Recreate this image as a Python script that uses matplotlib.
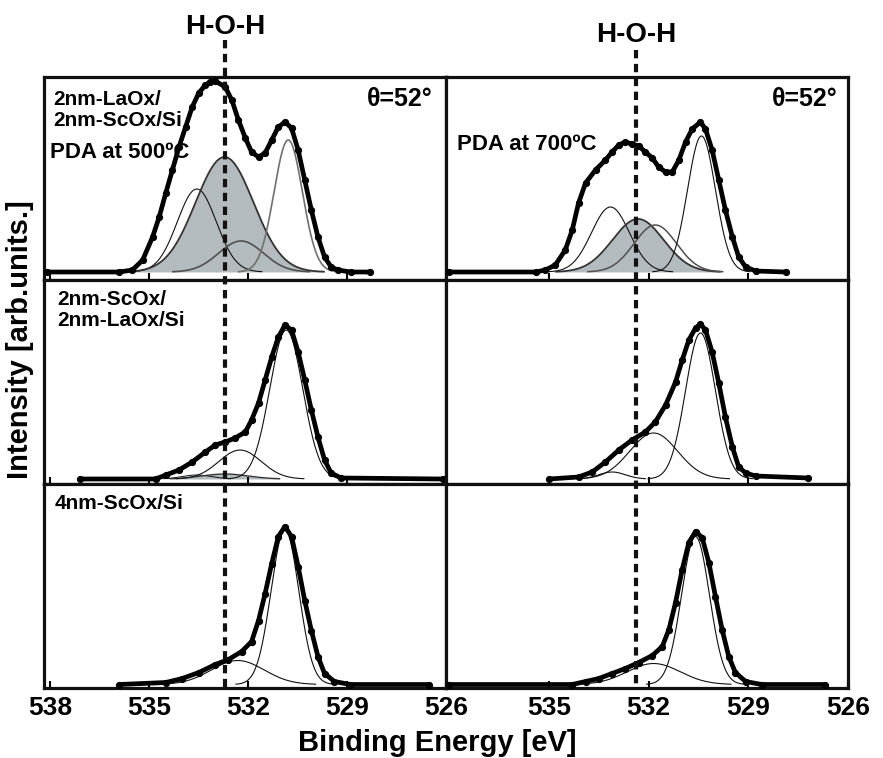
import numpy as np
import matplotlib
matplotlib.use("Agg")
import matplotlib.pyplot as plt
from matplotlib.lines import Line2D
from matplotlib.transforms import blended_transform_factory

plt.rcParams['font.family'] = ['Liberation Sans', 'DejaVu Sans']
plt.rcParams['font.weight'] = 'bold'
plt.rcParams['lines.scale_dashes'] = False

# ---------------- data (binding energy in eV, intensity in arb. units) ----------------
# measured envelopes
tl_energy = [538.1, 535.9, 535.5, 535.19, 534.89, 534.69, 534.49, 534.29, 534.09, 533.89, 533.69,
             533.49, 533.29, 533.14, 532.99, 532.69, 532.49, 532.29, 532.08, 531.89, 531.68, 531.48,
             531.28, 531.08, 530.88, 530.68, 530.48, 530.28, 530.08, 529.88, 529.68, 529.48, 529.28,
             528.89, 528.29]
tl_int = [0, 0, 2, 12, 35, 55, 79, 102, 125, 145, 165,
          179, 187, 190, 191, 185, 172, 152, 134, 120, 115, 119,
          132, 145, 150, 144, 122, 92, 62, 35, 15, 5, 2,
          0, 0]

tr_energy = [538.0, 535.4, 535.11, 534.81, 534.51, 534.30, 534.11, 533.90, 533.60, 533.30, 533.10,
             532.90, 532.70, 532.50, 532.30, 532.10, 531.89, 531.70, 531.49, 531.29, 531.09, 530.89,
             530.69, 530.44, 530.29, 530.09, 529.89, 529.69, 529.48, 529.29, 529.08, 528.78, 527.88]
tr_int = [0, 0, 2, 7, 22, 42, 69, 89, 102, 112, 120,
          127, 130, 128, 126, 120, 114, 105, 100, 100, 112, 130,
          143, 150, 143, 122, 92, 62, 35, 15, 5, 1, 0]

ml_energy = [537.1, 534.8, 534.49, 534.09, 533.69, 533.29, 532.99, 532.69, 532.39, 532.08, 531.89,
             531.68, 531.48, 531.28, 531.08, 530.88, 530.68, 530.48, 530.28, 530.08, 529.88, 529.68,
             529.48, 529.18, 526.1]
ml_int = [0, 0, 4, 9, 17, 27, 34, 37, 41, 47, 59,
          76, 99, 122, 142, 154, 149, 127, 99, 69, 42, 19,
          6, 1, 0]

mr_energy = [535.0, 534.11, 533.70, 533.30, 532.90, 532.50, 532.10, 531.80, 531.49, 531.19, 530.99,
             530.79, 530.59, 530.44, 530.29, 530.09, 529.89, 529.69, 529.48, 529.29, 529.08, 528.78,
             527.19]
mr_int = [0, 2, 7, 17, 29, 39, 47, 57, 74, 97, 119,
          139, 151, 155, 149, 127, 96, 62, 32, 12, 6, 3,
          1]

bl_energy = [535.9, 534.49, 533.99, 533.49, 532.99, 532.59, 532.19, 531.89, 531.68, 531.48, 531.28,
             531.08, 530.88, 530.68, 530.48, 530.28, 530.08, 529.88, 529.68, 529.38, 528.9, 526.5]
bl_int = [0, 2, 6, 12, 20, 25, 33, 43, 64, 91, 121,
          148, 158, 148, 118, 84, 54, 28, 11, 3, 0, 0]

br_energy = [538.0, 534.3, 533.90, 533.50, 533.10, 532.70, 532.30, 531.89, 531.59, 531.39, 531.19,
             530.99, 530.79, 530.59, 530.39, 530.19, 529.99, 529.79, 529.59, 529.39, 529.08, 528.6,
             526.7]
br_int = [0, 0, 3, 6, 11, 16, 22, 29, 38, 55, 82,
          115, 142, 153, 147, 122, 88, 55, 28, 12, 3, 0,
          0]

# fitted components: centre (eV), height, sigma (eV)
tl_centers = [533.55, 532.71, 532.21, 530.78]
tl_heights = [83, 115, 31, 132]
tl_sigmas = [0.59, 0.875, 0.68, 0.43]

tr_centers = [533.15, 532.32, 531.80, 530.41]
tr_heights = [65, 53, 47, 136]
tr_sigmas = [0.57, 0.77, 0.64, 0.42]

ml_centers = [533.55, 532.70, 532.24, 530.84]
ml_heights = [4, 5, 29, 149]
ml_sigmas = [0.45, 0.70, 0.64, 0.50]

mr_centers = [533.10, 531.85, 530.44]
mr_heights = [7, 46, 146]
mr_sigmas = [0.40, 0.72, 0.45]

bl_centers = [532.31, 530.88]
bl_heights = [24, 155]
bl_sigmas = [0.80, 0.42]

br_centers = [531.85, 530.59]
br_heights = [21, 148]
br_sigmas = [0.80, 0.42]

hoh_left = 532.70
hoh_right = 532.38

left_ticks = [538, 535, 532, 529, 526]
right_ticks = [535, 532, 529, 526]

# ---------------- styles ----------------
FILL = '#b3bbbf'
tl_styles = [('#111111', 0.8, False), ('#333333', 1.3, True), ('#505050', 1.2, False), ('#707070', 1.2, False)]
tr_styles = [('#111111', 0.8, False), ('#333333', 1.3, True), ('#505050', 1.1, False), ('#111111', 0.8, False)]
ml_styles = [('#111111', 0.7, False), ('#333333', 1.0, True), ('#111111', 0.8, False), ('#111111', 0.8, False)]
mr_styles = [('#111111', 0.8, False), ('#111111', 0.8, False), ('#111111', 0.8, False)]
bl_styles = [('#111111', 0.8, False), ('#111111', 0.8, False)]
br_styles = [('#111111', 0.8, False), ('#111111', 0.8, False)]

W, H = 883, 758
fig = plt.figure(figsize=(W / 100, H / 100), dpi=100)


def fx(px):
    return px / W


def fy(py):
    return 1 - py / H


col_x = [(44, 446), (446, 848)]
row_y = [(77, 280, 272), (280, 484, 479), (484, 688, 684.5)]
xlims = [(538.18, 526.0), (538.1, 526.0)]

panels = [
    [(tl_energy, tl_int, tl_centers, tl_heights, tl_sigmas, tl_styles),
     (tr_energy, tr_int, tr_centers, tr_heights, tr_sigmas, tr_styles)],
    [(ml_energy, ml_int, ml_centers, ml_heights, ml_sigmas, ml_styles),
     (mr_energy, mr_int, mr_centers, mr_heights, mr_sigmas, mr_styles)],
    [(bl_energy, bl_int, bl_centers, bl_heights, bl_sigmas, bl_styles),
     (br_energy, br_int, br_centers, br_heights, br_sigmas, br_styles)],
]

axes = [[None, None] for _ in range(3)]
for r in range(3):
    top, bot, base = row_y[r]
    for c in range(2):
        x0, x1 = col_x[c]
        ax = fig.add_axes([fx(x0), fy(bot), (x1 - x0) / W, (bot - top) / H])
        axes[r][c] = ax
        energy, inten, cens, hts, sigs, styles = panels[r][c]
        grid = np.linspace(537.0, 527.5, 800)
        for cen, h, s, (col, lw, filled) in zip(cens, hts, sigs, styles):
            g = h * np.exp(-0.5 * ((grid - cen) / s) ** 2)
            m = g > 0.3
            if filled:
                ax.fill_between(grid[m], 0, g[m], color=FILL, lw=0, zorder=1)
            ax.plot(grid[m], g[m], color=col, lw=lw, zorder=2)
        ax.plot(energy, inten, color='black', lw=3.4, zorder=3,
                marker='o', ms=4.2, mec='black', mfc='black',
                solid_capstyle='round', solid_joinstyle='round')
        ax.set_xlim(*xlims[c])
        ax.set_ylim(-(bot - base), base - top)
        ax.set_yticks([])
        ticks = left_ticks if c == 0 else right_ticks
        ax.set_xticks(ticks)
        ax.tick_params(axis='x', direction='in', length=5, width=1.5, pad=6,
                       labelsize=19, labelbottom=(r == 2))
        if r == 2:
            ax.set_xticklabels([str(t) for t in ticks], fontweight='bold')
        for sp in ax.spines.values():
            sp.set_linewidth(2.3)
            sp.set_color('#111111')

# H-O-H dashed reference lines
for c, e, ytop in [(0, hoh_left, 40), (1, hoh_right, 50)]:
    tr = blended_transform_factory(axes[0][c].transData, fig.transFigure)
    ln = Line2D([e, e], [fy(ytop), fy(688)], transform=tr, color='#111111',
                lw=3.0, dashes=(6, 4), zorder=5)
    fig.lines.append(ln)
    ln.set_figure(fig)

fig.text(fx(225), fy(34), 'H-O-H', ha='center', va='baseline', fontsize=20, fontweight='bold')
fig.text(fx(636), fy(42), 'H-O-H', ha='center', va='baseline', fontsize=20, fontweight='bold')

# panel annotations
fig.text(fx(53), fy(105), '2nm-LaOx/', ha='left', va='baseline', fontsize=15, fontweight='bold')
fig.text(fx(53), fy(126), '2nm-ScOx/Si', ha='left', va='baseline', fontsize=15, fontweight='bold')
fig.text(fx(50), fy(158), 'PDA at 500ºC', ha='left', va='baseline', fontsize=16, fontweight='bold')
fig.text(fx(457), fy(150), 'PDA at 700ºC', ha='left', va='baseline', fontsize=16, fontweight='bold')
fig.text(fx(433), fy(106), 'θ=52°', ha='right', va='baseline', fontsize=18, fontweight='bold')
fig.text(fx(838), fy(106), 'θ=52°', ha='right', va='baseline', fontsize=18, fontweight='bold')
fig.text(fx(57), fy(305), '2nm-ScOx/', ha='left', va='baseline', fontsize=15, fontweight='bold')
fig.text(fx(57), fy(326), '2nm-LaOx/Si', ha='left', va='baseline', fontsize=15, fontweight='bold')
fig.text(fx(55), fy(509), '4nm-ScOx/Si', ha='left', va='baseline', fontsize=15, fontweight='bold')

fig.text(fx(437), fy(743), 'Binding Energy [eV]', ha='center', va='center', fontsize=21, fontweight='bold')
fig.text(fx(20), fy(340), 'Intensity [arb.units.]', ha='center', va='center', rotation=90,
         fontsize=21, fontweight='bold')

fig.savefig('out.png', dpi=100)
